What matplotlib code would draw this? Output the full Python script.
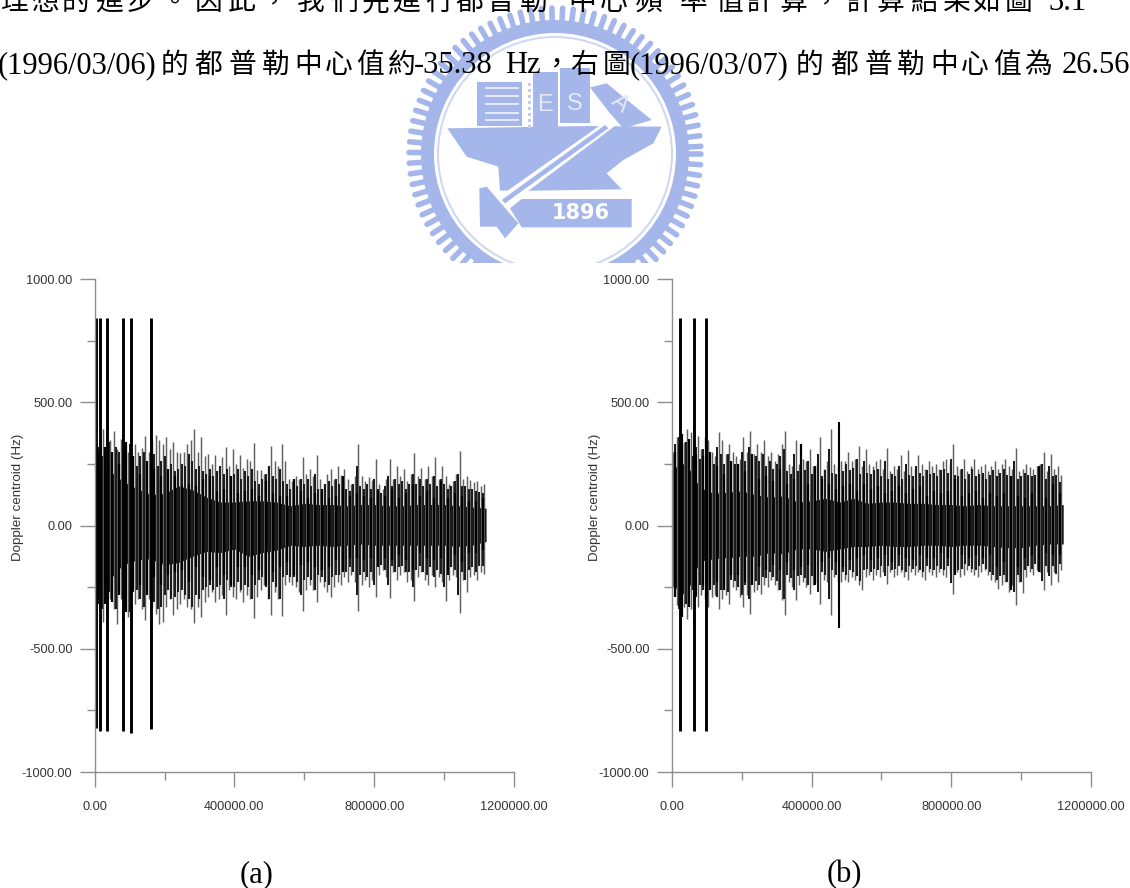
import numpy as np
import matplotlib
matplotlib.use("Agg")
import matplotlib.pyplot as plt
from matplotlib.patches import Polygon, Rectangle, Circle

W, H = 1130, 888
LAT = ['Liberation Serif', 'Noto Sans CJK TC']
CJK = ['Noto Sans CJK TC', 'Liberation Serif']

x_ticks = [0, 400000, 800000, 1200000]
x_ticklabels = ['0.00', '400000.00', '800000.00', '1200000.00']
x_minor = [200000, 600000, 1000000]
y_ticks = [1000, 500, 0, -500, -1000]
y_ticklabels = ['1000.00', '500.00', '0.00', '-500.00', '-1000.00']
y_minor = [750, 250, -250, -750]
y_label = 'Doppler centroid (Hz)'

# ---- panel (a) ----
a_up = [335,350,392,330,345,385,310,350,320,300,
        405,330,300,315,365,300,345,369,345,330,
        360,310,340,300,295,300,330,345,390,300,
        358,280,290,250,284,230,277,320,240,310,
        250,285,235,270,260,334,225,225,210,240,
        323,260,240,331,260,190,180,200,190,277,
        210,230,200,284,190,170,210,230,190,240,
        205,230,190,170,200,331,200,180,195,185,
        270,170,150,190,270,190,240,200,230,180,
        210,293,200,235,190,240,200,277,190,240,
        200,170,180,210,301,190,199,185,175,180,
        160,169]
a_dn = [-320,-350,-392,-330,-300,-340,-399,-300,-340,-370,
        -410,-320,-300,-340,-385,-300,-330,-360,-399,-392,
        -330,-300,-365,-340,-320,-300,-330,-340,-396,-330,
        -372,-310,-290,-270,-310,-300,-280,-362,-260,-290,
        -300,-270,-310,-280,-300,-374,-290,-260,-240,-300,
        -365,-270,-300,-368,-240,-230,-240,-250,-270,-345,
        -260,-240,-260,-311,-230,-250,-270,-290,-250,-230,
        -240,-210,-230,-200,-230,-347,-240,-220,-250,-220,
        -291,-200,-180,-210,-293,-190,-220,-200,-190,-230,
        -220,-308,-210,-190,-220,-240,-200,-250,-210,-230,
        -308,-220,-200,-210,-353,-220,-270,-210,-200,-220,
        -190,-195]
a_fill_up = [290,320,280,300,340,260,320,300,260,280,
             330,270,240,280,300,250,310,290,240,260,
             280,230,250,220,230,250,240,290,260,230,
             240,220,210,230,200,220,240,210,230,190,
             210,230,190,220,200,230,180,170,190,210,
             240,200,190,230,180,170,150,170,160,190,
             170,190,160,210,150,140,170,180,160,190,
             170,180,150,140,170,240,160,150,170,150,
             190,150,130,160,200,160,190,170,180,150,
             170,210,170,190,160,190,170,200,160,190,
             170,150,160,180,210,160,160,150,150,140,
             135,130]
a_fill_dn = [-280,-320,-340,-280,-270,-310,-340,-270,-300,-320,
             -350,-270,-260,-300,-330,-260,-290,-310,-340,-330,
             -280,-260,-300,-290,-270,-260,-280,-300,-330,-280,
             -300,-260,-250,-240,-260,-250,-240,-300,-220,-250,
             -250,-230,-260,-240,-250,-300,-240,-220,-210,-250,
             -300,-230,-250,-300,-210,-200,-210,-210,-230,-280,
             -220,-210,-220,-260,-200,-210,-230,-240,-210,-200,
             -200,-180,-190,-170,-190,-280,-200,-190,-210,-190,
             -240,-170,-160,-180,-240,-165,-190,-170,-165,-190,
             -190,-250,-180,-165,-190,-200,-170,-210,-180,-195,
             -250,-190,-170,-180,-280,-190,-220,-180,-170,-190,
             -165,-165]
a_mid_up = [300,320,300,250,340,280,210,260,230,200,
            230,200,160,170,160,190,200,140,150,200,
            130,140,150,120,180,130,120,120,190,140,
            110,130,150,110,120,200,120,130,120,110,
            140,120,150,110,130,170,120,140,110,180,
            110,130,120,100,100,110]
a_mid_dn = [-300,-320,-310,-280,-350,-260,-240,-280,-210,-240,
            -200,-190,-180,-230,-170,-210,-220,-170,-200,-240,
            -170,-170,-200,-180,-240,-190,-170,-150,-200,-160,
            -150,-170,-180,-170,-140,-190,-130,-130,-140,-130,
            -170,-130,-140,-120,-140,-180,-110,-130,-140,-130,
            -200,-120,-150,-110,-110,-100]
a_band_up = [240,225,180,150,125,130,160,145,115,95,95,100,100,95,80,
             90,85,85,80,85,85,80,80,85,85,85,80,75,70]
a_band_dn = [-240,-225,-160,-140,-135,-160,-150,-125,-105,-110,-95,-125,-110,-100,-80,
             -85,-80,-85,-80,-75,-80,-80,-80,-80,-80,-80,-85,-80,-65]
a_spike_x = [3100, 15500, 35600, 82000, 103000, 160500]
a_spike_top = [840, 840, 840, 840, 840, 840]
a_spike_bot = [-820, -835, -835, -835, -840, -825]

# ---- panel (b) ----
b_up = [300,358,405,340,392,378,320,365,310,358,
        345,300,280,378,345,290,331,300,280,270,
        358,300,385,290,331,300,345,280,300,260,
        290,331,385,250,240,345,250,270,260,311,
        240,250,358,230,260,392,250,240,260,260,
        297,260,270,324,240,311,250,240,260,270,
        230,315,220,240,230,284,220,306,240,230,
        284,250,230,260,240,250,230,260,270,250,
        331,240,230,270,220,240,270,230,240,250,
        220,240,260,230,250,270,240,230,315,220,
        230,250,236,230,240,250,297,220,290,230,
        240,203]
b_dn = [-250,-324,-392,-330,-378,-340,-300,-331,-280,-300,
        -331,-290,-280,-338,-300,-280,-317,-250,-260,-290,
        -331,-280,-361,-270,-260,-277,-240,-250,-220,-240,
        -260,-304,-365,-230,-250,-301,-240,-230,-250,-277,
        -240,-230,-317,-220,-230,-365,-210,-230,-230,-220,
        -230,-210,-220,-240,-263,-210,-200,-220,-200,-210,
        -190,-236,-190,-210,-200,-190,-209,-223,-190,-200,
        -190,-210,-223,-190,-200,-210,-190,-200,-210,-190,
        -277,-190,-210,-200,-180,-190,-200,-210,-190,-180,
        -200,-220,-230,-257,-240,-230,-270,-240,-324,-230,
        -274,-210,-190,-200,-180,-190,-263,-190,-243,-190,
        -230,-180]
b_fill_up = [280,330,360,300,340,320,280,320,270,310,
             300,270,250,320,290,250,290,260,250,240,
             300,260,320,250,280,260,290,240,260,230,
             250,280,310,220,210,290,220,230,225,260,
             210,220,290,200,225,310,215,210,300,220,
             250,225,235,270,210,260,215,210,225,230,
             200,260,190,210,200,240,190,250,205,200,
             240,215,200,225,210,215,200,225,230,215,
             270,205,200,230,190,210,230,200,210,215,
             190,205,225,200,215,230,205,200,260,190,
             200,215,205,200,205,215,250,190,240,200,
             205,175]
b_fill_dn = [-220,-280,-340,-290,-320,-300,-260,-290,-240,-260,
             -280,-250,-240,-290,-260,-240,-270,-220,-225,-250,
             -280,-240,-300,-230,-225,-240,-210,-215,-190,-210,
             -225,-260,-300,-200,-215,-260,-205,-200,-215,-240,
             -205,-200,-270,-190,-200,-300,-180,-200,-330,-190,
             -200,-180,-190,-205,-225,-180,-175,-190,-175,-180,
             -165,-205,-165,-180,-175,-165,-180,-190,-165,-175,
             -165,-180,-190,-165,-175,-180,-165,-175,-180,-165,
             -235,-165,-180,-175,-155,-165,-175,-180,-165,-155,
             -175,-190,-200,-220,-205,-200,-230,-205,-270,-200,
             -230,-180,-165,-175,-155,-165,-225,-165,-205,-165,
             -195,-155]
b_mid_up = [300,370,350,290,280,300,240,210,260,250,
            220,290,190,200,180,230,170,190,330,170,
            240,190,170,150,160,170,140,170,150,160,
            130,140,160,130,150,160,120,140,130,140,
            190,120,130,140,110,130,120,130,200,120,
            110,130,240,110,170,130]
b_mid_dn = [-290,-370,-330,-280,-240,-260,-230,-260,-200,-200,
            -230,-240,-170,-180,-160,-180,-150,-180,-170,-160,
            -240,-150,-130,-150,-170,-140,-130,-120,-140,-130,
            -120,-150,-120,-130,-140,-120,-130,-130,-110,-130,
            -200,-120,-130,-120,-130,-120,-170,-150,-260,-170,
            -130,-120,-190,-110,-120,-120]
b_band_up = [230,255,155,130,135,140,125,115,120,95,100,110,95,110,90,
             95,95,90,90,85,85,80,85,80,80,80,80,80,85]
b_band_dn = [-240,-285,-145,-135,-130,-125,-125,-110,-115,-95,-95,-105,-95,-85,-85,
             -80,-85,-85,-80,-80,-85,-80,-80,-85,-90,-90,-80,-75,-75]
b_spike_x = [23700, 63800, 97300]
b_spike_top = [840, 840, 840]
b_spike_bot = [-835, -835, -835]
b_thin_x = [478700]
b_thin_top = [419]
b_thin_dn = [-417]

step_fine, step_mid, step_band = 10000, 20000, 40000

fig = plt.figure(figsize=(W / 100, H / 100), dpi=100, facecolor='white')

page = fig.add_axes([0, 0, 1, 1], zorder=0)
page.set_xlim(0, W)
page.set_ylim(H, 0)
page.axis('off')

BLUE = '#a4b6ea'
PALE = '#e4e9f9'
def Z(pts):
    return [(390 + x / 3, y / 3) for x, y in pts]
def poly(pts, c=BLUE, z=2):
    page.add_patch(Polygon(Z(pts), closed=True, fc=c, ec='none', zorder=z))

cx, cy = 555, 154
page.add_patch(Circle((cx, cy), 134, fc=BLUE, ec='none', zorder=1))
for ang in np.arange(0, 360, 4.2):
    t = np.deg2rad(ang)
    page.plot([cx + 130 * np.cos(t), cx + 146 * np.cos(t)],
              [cy + 130 * np.sin(t), cy + 146 * np.sin(t)],
              color=BLUE, lw=4.0, solid_capstyle='round', zorder=1)
page.add_patch(Circle((cx, cy), 121, fc='white', ec='none', zorder=1.2))
page.add_patch(Circle((cx, cy), 117, fc='none', ec='#cdd7f3', lw=1.4, zorder=1.3))

poly([(172,385),(590,378),(815,380),(790,430),(700,480),(650,520),(695,568),(430,572),(330,572),(325,500),(230,470)])
poly([(262,245),(395,245),(395,378),(262,378)])
for yy in (262, 285, 310, 335, 358):
    poly([(285,yy),(388,yy),(388,yy+6),(285,yy+6)], c=PALE, z=3)
for yy in range(250, 378, 18):
    poly([(414,yy),(424,yy),(424,yy+7),(414,yy+7)], c='#c0cdf1', z=3)
poly([(430,215),(505,215),(505,380),(430,380)])
poly([(510,205),(600,205),(600,368),(510,368)])
poly([(600,262),(650,250),(785,360),(700,385),(660,340)])
for lx, ly, letter, rot in [(465, 315, 'E', 0), (553, 312, 'S', 0), (690, 310, 'A', -40)]:
    page.text(390 + lx / 3, ly / 3, letter, color=PALE, fontsize=17, family='Liberation Sans',
              ha='center', va='center', rotation=rot, zorder=3)
poly([(660,355),(672,380),(345,625),(320,595)], c='white', z=3)
poly([(645,375),(655,385),(345,610),(335,600)], c=BLUE, z=4)
poly([(268,565),(290,560),(385,670),(345,715),(320,680),(270,680)], z=3)
poly([(395,597),(725,597),(725,682),(395,682),(360,625)], z=3)
page.text(390 + 572 / 3, 640 / 3, '1896', color='white', fontsize=15, fontweight='bold',
          family='DejaVu Sans', ha='center', va='center', zorder=5)
page.add_patch(Rectangle((380, 263), 350, 42, fc='white', ec='none', zorder=6))

BASE = 73
def run(x, s, fam=LAT, size=22, y=BASE):
    page.text(x, y, s, family=fam, fontsize=size, color='black', va='baseline', ha='left', zorder=8)

run(-2, '(1996/03/06)')
for x, c in zip([161, 194, 229, 262, 294, 325, 356, 388], '的都普勒中心值約'):
    run(x, c, CJK, 20)
run(414, '-35.38')
run(505, 'Hz')
run(542, '，', CJK, 20)
run(570, '右', CJK, 20)
run(603, '圖', CJK, 20)
run(630, '(1996/03/07)')
for x, c in zip([796, 830, 865, 897, 930, 961, 993, 1024], '的都普勒中心值為'):
    run(x, c, CJK, 20)
run(1062, '26.56')

top_chars = '理想的進步。因此，我們先進行都普勒中心頻率值計算，計算結果如圖'
top_x = [0, 31, 62, 95, 127, 160, 195, 228, 260, 297, 330, 362, 392, 425, 455, 487, 520,
         568, 600, 635, 680, 715, 745, 780, 812, 845, 877, 910, 943, 972, 1005]
for x, c in zip(top_x, top_chars):
    run(x, c, CJK, 20, y=10)
run(1048, '3.1', LAT, 22, y=10)
run(240, '(a)', LAT, 22, y=882)
run(827, '(b)', LAT, 22, y=882)

GREY = '#8e8e8e'
TXT = '#333333'
SANS = 'Liberation Sans'

def panel(x0, ylab_x, up, dn, fill_up, fill_dn, mid_up, mid_dn, band_up, band_dn, sx, st, sb):
    x1 = x0 + 419.4
    ytop, ybot = 279, 772
    ax = fig.add_axes([x0 / W, 1 - ybot / H, (x1 - x0) / W, (ybot - ytop) / H], zorder=3)
    ax.patch.set_alpha(0)
    xf = np.arange(len(up)) * step_fine + step_fine / 2
    xg = np.arange(len(fill_up)) * step_fine
    xm = np.arange(len(mid_up)) * step_mid + step_mid / 2
    xb = np.arange(len(band_up)) * step_band
    ax.vlines(xf, dn, up, color='#606060', lw=1.05)
    ax.vlines(xg, fill_dn, fill_up, color='#1c1c1c', lw=1.45)
    ax.vlines(xm, mid_dn, mid_up, color='black', lw=1.6)
    ax.fill_between(xb, band_dn, band_up, color='black', lw=0)
    ax.vlines(sx, sb, st, color='black', lw=2.1)
    ax.set_xlim(0, 1200000)
    ax.set_ylim(-1000, 1000)
    for s in ('top', 'right'):
        ax.spines[s].set_visible(False)
    for s in ('left', 'bottom'):
        ax.spines[s].set_color(GREY)
        ax.spines[s].set_linewidth(1.0)
    ax.set_xticks(x_ticks, x_ticklabels, family=SANS, fontsize=9.2, color=TXT)
    ax.set_yticks(y_ticks, y_ticklabels, family=SANS, fontsize=9.2, color=TXT)
    ax.set_xticks(x_minor, minor=True)
    ax.set_yticks(y_minor, minor=True)
    ax.tick_params(which='major', axis='both', length=10.5, width=1.0, color=GREY)
    ax.tick_params(which='major', axis='x', pad=10.5)
    ax.tick_params(which='major', axis='y', pad=5.5)
    ax.tick_params(which='minor', axis='both', length=5.8, width=1.0, color=GREY)
    fig.text(ylab_x / W, 1 - 497 / H, y_label, rotation=90, family=SANS, fontsize=9.6,
             color=TXT, ha='center', va='center')
    return ax

ax_a = panel(94.6, 18, a_up, a_dn, a_fill_up, a_fill_dn, a_mid_up, a_mid_dn, a_band_up, a_band_dn,
             a_spike_x, a_spike_top, a_spike_bot)
ax_b = panel(671.7, 595, b_up, b_dn, b_fill_up, b_fill_dn, b_mid_up, b_mid_dn, b_band_up, b_band_dn,
             b_spike_x, b_spike_top, b_spike_bot)
ax_b.vlines(b_thin_x, b_thin_dn, b_thin_top, color='black', lw=1.5)

fig.savefig('out.png', dpi=100, facecolor='white')
